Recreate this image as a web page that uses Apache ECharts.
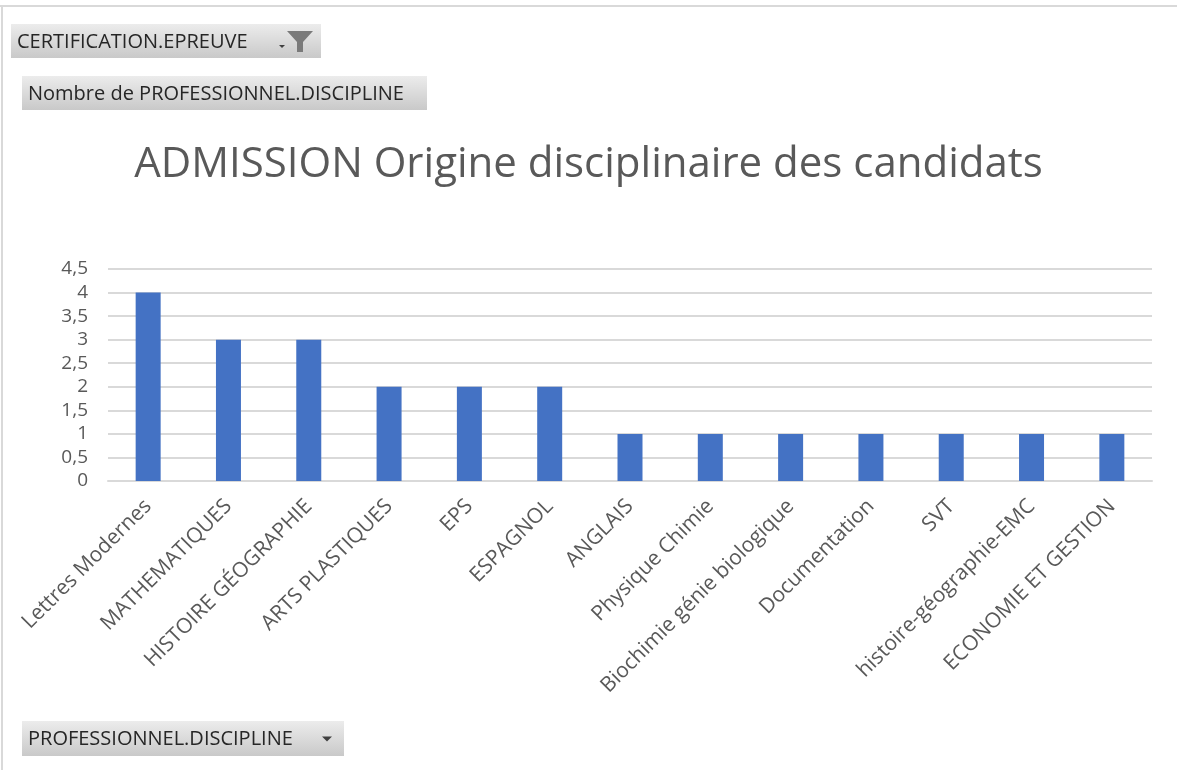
<!DOCTYPE html>
<html>
<head>
<meta charset="utf-8">
<script src="https://cdn.jsdelivr.net/npm/echarts@6/dist/echarts.min.js"></script>
<style>
  html, body { margin: 0; padding: 0; background: #fff; }
  #chart { width: 1177px; height: 770px; }
</style>
</head>
<body>
<div id="chart"></div>
<script>
// disciplines (axe des catégories)
var categories = [
  'Lettres Modernes', 'MATHEMATIQUES', 'HISTOIRE GÉOGRAPHIE', 'ARTS PLASTIQUES',
  'EPS', 'ESPAGNOL', 'ANGLAIS', 'Physique Chimie', 'Biochimie génie biologique',
  'Documentation', 'SVT', 'histoire-géographie-EMC', 'ECONOMIE ET GESTION'
];
// Nombre de PROFESSIONNEL.DISCIPLINE
var counts = [4, 3, 3, 2, 2, 2, 1, 1, 1, 1, 1, 1, 1];

var txt = '#595959';
var font = '"Open Sans", "Noto Sans", sans-serif';

function button(x, y, w, h, label, icon) {
  var children = [
    {
      type: 'rect',
      shape: { x: 0, y: 0, width: w, height: h },
      style: {
        fill: new echarts.graphic.LinearGradient(0, 0, 0, 1, [
          { offset: 0, color: '#ececec' },
          { offset: 1, color: '#c9c9c9' }
        ])
      }
    },
    {
      type: 'text',
      x: 6, y: h / 2 + 1,
      style: { text: label, fill: '#262626', font: '20px ' + font, verticalAlign: 'middle' }
    }
  ];
  if (icon === 'filter') {
    children.push({
      type: 'polygon',
      shape: { points: [[w - 34, 7], [w - 8, 7], [w - 18, 18], [w - 18, 28], [w - 24, 28], [w - 24, 18]] },
      style: { fill: '#7a7a7a' }
    });
    children.push({
      type: 'polygon',
      shape: { points: [[w - 42, 21], [w - 36, 21], [w - 39, 24]] },
      style: { fill: '#404040' }
    });
  } else if (icon === 'arrow') {
    children.push({
      type: 'polygon',
      shape: { points: [[w - 22, h / 2 - 2], [w - 12, h / 2 - 2], [w - 17, h / 2 + 3]] },
      style: { fill: '#404040' }
    });
  }
  return { type: 'group', x: x, y: y, children: children };
}

var chart = echarts.init(document.getElementById('chart'));
chart.setOption({
  backgroundColor: '#fff',
  animation: false,
  title: {
    text: 'ADMISSION Origine disciplinaire des candidats',
    left: 'center',
    top: 139,
    textStyle: { color: txt, fontSize: 42, fontWeight: 'normal', fontFamily: font }
  },
  grid: { left: 108, right: 25, top: 269, bottom: 289, containLabel: false, outerBoundsMode: 'none' },
  xAxis: {
    type: 'category',
    data: categories,
    axisLine: { lineStyle: { color: '#d9d9d9', width: 2 } },
    axisTick: { show: false },
    axisLabel: {
      interval: 0,
      rotate: 45,
      margin: 22,
      color: txt,
      fontSize: 21,
      fontFamily: font
    }
  },
  yAxis: {
    type: 'value',
    min: 0,
    max: 4.5,
    interval: 0.5,
    axisLine: { show: false },
    axisTick: { show: false },
    splitLine: { lineStyle: { color: '#d9d9d9', width: 2 } },
    axisLabel: {
      margin: 20,
      color: txt,
      fontSize: 19,
      fontFamily: font,
      formatter: function (v) { return String(v).replace('.', ','); }
    }
  },
  series: [{
    type: 'bar',
    data: counts,
    barWidth: 25,
    itemStyle: { color: '#4472c4' }
  }],
  graphic: [
    { type: 'line', shape: { x1: 0, y1: 6, x2: 1177, y2: 6 }, style: { stroke: '#d9d9d9', lineWidth: 2 } },
    { type: 'line', shape: { x1: 2, y1: 6, x2: 2, y2: 770 }, style: { stroke: '#d9d9d9', lineWidth: 2 } },
    button(11, 24, 310, 34, 'CERTIFICATION.EPREUVE', 'filter'),
    button(22, 76, 405, 34, 'Nombre de PROFESSIONNEL.DISCIPLINE'),
    button(22, 721, 322, 35, 'PROFESSIONNEL.DISCIPLINE', 'arrow')
  ]
});
</script>
</body>
</html>
